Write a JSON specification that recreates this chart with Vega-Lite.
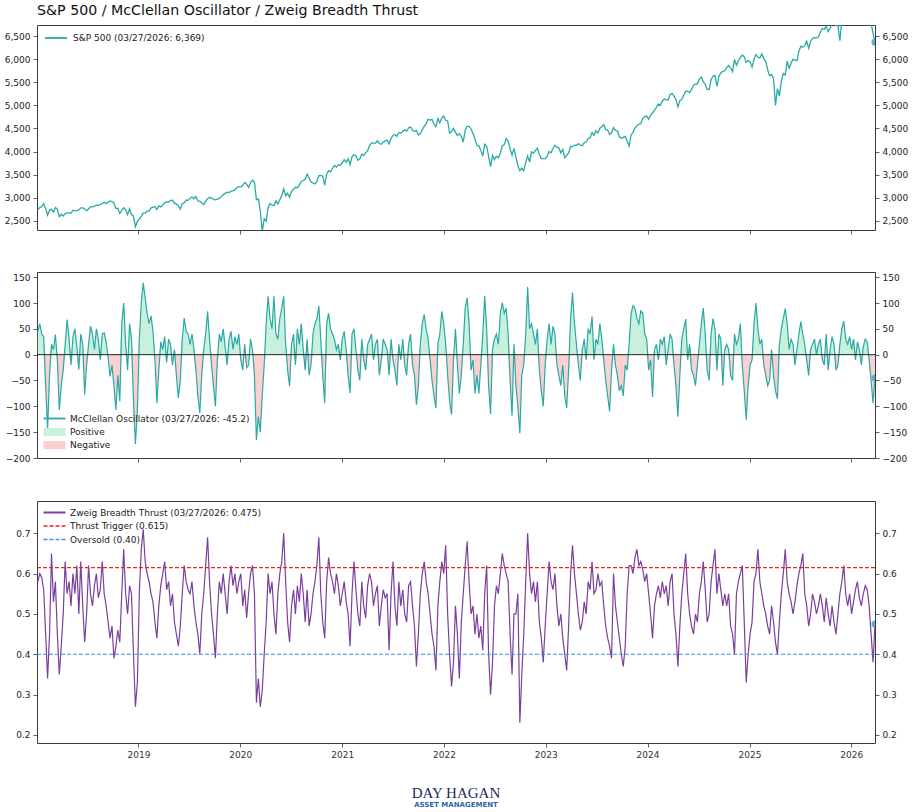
{
"$schema": "https://vega.github.io/schema/vega-lite/v6.json",
"background": "white",
"padding": {"left": 3, "top": 4, "right": 6, "bottom": 4},
"title": {"text": "S&P 500 / McClellan Oscillator / Zweig Breadth Thrust", "anchor": "start", "frame": "group", "font": "DejaVu Sans", "fontSize": 14.2, "fontWeight": "normal", "color": "#111", "offset": 6},
"spacing": 36,
"resolve": {"scale": {"color": "independent"}, "legend": {"color": "independent"}},
"datasets": {"w": [
{"d":"2018-01-05","s":2743,"m":45,"z":0.58},{"d":"2018-01-12","s":2786,"m":60,"z":0.60},{"d":"2018-01-19","s":2810,"m":40,"z":0.59},{"d":"2018-01-26","s":2873,"m":35,"z":0.56},
{"d":"2018-02-02","s":2762,"m":-60,"z":0.45},{"d":"2018-02-09","s":2620,"m":-145,"z":0.34},{"d":"2018-02-16","s":2732,"m":-40,"z":0.45},{"d":"2018-02-23","s":2747,"m":20,"z":0.65},
{"d":"2018-03-02","s":2691,"m":10,"z":0.53},{"d":"2018-03-09","s":2786,"m":39,"z":0.58},{"d":"2018-03-16","s":2752,"m":-10,"z":0.45},{"d":"2018-03-23","s":2588,"m":-107,"z":0.35},{"d":"2018-03-30","s":2641,"m":-60,"z":0.42},
{"d":"2018-04-06","s":2604,"m":-30,"z":0.50},{"d":"2018-04-13","s":2656,"m":20,"z":0.63},{"d":"2018-04-20","s":2670,"m":68,"z":0.55},{"d":"2018-04-27","s":2670,"m":30,"z":0.58},
{"d":"2018-05-04","s":2663,"m":-20,"z":0.52},{"d":"2018-05-11","s":2728,"m":35,"z":0.60},{"d":"2018-05-18","s":2713,"m":50,"z":0.55},{"d":"2018-05-25","s":2721,"m":15,"z":0.62},
{"d":"2018-06-01","s":2735,"m":-29,"z":0.50},{"d":"2018-06-08","s":2779,"m":40,"z":0.63},{"d":"2018-06-15","s":2780,"m":20,"z":0.52},{"d":"2018-06-22","s":2755,"m":-77,"z":0.43},{"d":"2018-06-29","s":2718,"m":-20,"z":0.50},
{"d":"2018-07-06","s":2760,"m":20,"z":0.62},{"d":"2018-07-13","s":2801,"m":55,"z":0.55},{"d":"2018-07-20","s":2802,"m":40,"z":0.52},{"d":"2018-07-27","s":2819,"m":10,"z":0.57},
{"d":"2018-08-03","s":2840,"m":50,"z":0.60},{"d":"2018-08-10","s":2833,"m":30,"z":0.54},{"d":"2018-08-17","s":2850,"m":-10,"z":0.56},{"d":"2018-08-24","s":2875,"m":40,"z":0.63},{"d":"2018-08-31","s":2902,"m":42,"z":0.55},
{"d":"2018-09-07","s":2872,"m":25,"z":0.52},{"d":"2018-09-14","s":2905,"m":-5,"z":0.48},{"d":"2018-09-21","s":2930,"m":-42,"z":0.44},{"d":"2018-09-28","s":2914,"m":-20,"z":0.47},
{"d":"2018-10-05","s":2886,"m":-60,"z":0.39},{"d":"2018-10-12","s":2767,"m":-107,"z":0.42},{"d":"2018-10-19","s":2768,"m":-40,"z":0.46},{"d":"2018-10-26","s":2659,"m":-90,"z":0.43},
{"d":"2018-11-02","s":2723,"m":60,"z":0.55},{"d":"2018-11-09","s":2781,"m":100,"z":0.66},{"d":"2018-11-16","s":2736,"m":20,"z":0.55},{"d":"2018-11-23","s":2633,"m":-30,"z":0.50},{"d":"2018-11-30","s":2760,"m":60,"z":0.57},
{"d":"2018-12-07","s":2633,"m":30,"z":0.55},{"d":"2018-12-14","s":2600,"m":-90,"z":0.40},{"d":"2018-12-21","s":2370,"m":-173,"z":0.27},{"d":"2018-12-28","s":2486,"m":-110,"z":0.33},
{"d":"2019-01-04","s":2532,"m":30,"z":0.55},{"d":"2019-01-11","s":2596,"m":100,"z":0.66},{"d":"2019-01-18","s":2671,"m":139,"z":0.71},{"d":"2019-01-25","s":2665,"m":110,"z":0.63},
{"d":"2019-02-01","s":2707,"m":80,"z":0.60},{"d":"2019-02-08","s":2708,"m":60,"z":0.58},{"d":"2019-02-15","s":2776,"m":75,"z":0.55},{"d":"2019-02-22","s":2793,"m":45,"z":0.53},
{"d":"2019-03-01","s":2804,"m":-10,"z":0.48},{"d":"2019-03-08","s":2743,"m":-94,"z":0.44},{"d":"2019-03-15","s":2822,"m":-30,"z":0.52},{"d":"2019-03-22","s":2800,"m":25,"z":0.57},{"d":"2019-03-29","s":2834,"m":10,"z":0.60},
{"d":"2019-04-05","s":2893,"m":35,"z":0.63},{"d":"2019-04-12","s":2907,"m":-15,"z":0.56},{"d":"2019-04-19","s":2905,"m":30,"z":0.58},{"d":"2019-04-26","s":2940,"m":20,"z":0.52},
{"d":"2019-05-03","s":2946,"m":-20,"z":0.55},{"d":"2019-05-10","s":2881,"m":10,"z":0.48},{"d":"2019-05-17","s":2860,"m":-40,"z":0.45},{"d":"2019-05-24","s":2826,"m":-84,"z":0.42},{"d":"2019-05-31","s":2752,"m":-50,"z":0.47},
{"d":"2019-06-07","s":2873,"m":30,"z":0.55},{"d":"2019-06-14","s":2887,"m":71,"z":0.62},{"d":"2019-06-21","s":2950,"m":45,"z":0.58},{"d":"2019-06-28","s":2942,"m":40,"z":0.56},
{"d":"2019-07-05","s":2990,"m":20,"z":0.55},{"d":"2019-07-12","s":3014,"m":40,"z":0.58},{"d":"2019-07-19","s":2977,"m":10,"z":0.52},{"d":"2019-07-26","s":3026,"m":-30,"z":0.48},
{"d":"2019-08-02","s":2932,"m":-80,"z":0.45},{"d":"2019-08-09","s":2919,"m":-113,"z":0.40},{"d":"2019-08-16","s":2889,"m":-40,"z":0.50},{"d":"2019-08-23","s":2847,"m":10,"z":0.55},{"d":"2019-08-30","s":2926,"m":40,"z":0.62},
{"d":"2019-09-06","s":2979,"m":84,"z":0.69},{"d":"2019-09-13","s":3007,"m":30,"z":0.58},{"d":"2019-09-20","s":2992,"m":-20,"z":0.50},{"d":"2019-09-27","s":2962,"m":-60,"z":0.45},
{"d":"2019-10-04","s":2952,"m":-100,"z":0.39},{"d":"2019-10-11","s":2970,"m":-10,"z":0.50},{"d":"2019-10-18","s":2986,"m":40,"z":0.58},{"d":"2019-10-25","s":3023,"m":25,"z":0.55},
{"d":"2019-11-01","s":3067,"m":50,"z":0.60},{"d":"2019-11-08","s":3093,"m":15,"z":0.55},{"d":"2019-11-15","s":3120,"m":-20,"z":0.50},{"d":"2019-11-22","s":3110,"m":30,"z":0.58},{"d":"2019-11-29","s":3141,"m":45,"z":0.62},
{"d":"2019-12-06","s":3146,"m":10,"z":0.57},{"d":"2019-12-13","s":3169,"m":35,"z":0.60},{"d":"2019-12-20","s":3221,"m":20,"z":0.55},{"d":"2019-12-27","s":3240,"m":40,"z":0.58},
{"d":"2020-01-03","s":3235,"m":-10,"z":0.60},{"d":"2020-01-10","s":3265,"m":-30,"z":0.52},{"d":"2020-01-17","s":3330,"m":20,"z":0.56},{"d":"2020-01-24","s":3295,"m":-25,"z":0.49},{"d":"2020-01-31","s":3226,"m":-20,"z":0.55},
{"d":"2020-02-07","s":3328,"m":30,"z":0.60},{"d":"2020-02-14","s":3380,"m":10,"z":0.62},{"d":"2020-02-21","s":3338,"m":-40,"z":0.55},{"d":"2020-02-28","s":2954,"m":-165,"z":0.28},
{"d":"2020-03-06","s":2972,"m":-120,"z":0.34},{"d":"2020-03-13","s":2711,"m":-150,"z":0.27},{"d":"2020-03-20","s":2270,"m":-80,"z":0.31},{"d":"2020-03-27","s":2541,"m":-20,"z":0.40},
{"d":"2020-04-03","s":2489,"m":60,"z":0.48},{"d":"2020-04-10","s":2790,"m":113,"z":0.60},{"d":"2020-04-17","s":2875,"m":70,"z":0.55},{"d":"2020-04-24","s":2837,"m":50,"z":0.58},
{"d":"2020-05-01","s":2831,"m":113,"z":0.50},{"d":"2020-05-08","s":2930,"m":40,"z":0.45},{"d":"2020-05-15","s":2864,"m":30,"z":0.55},{"d":"2020-05-22","s":2955,"m":70,"z":0.60},{"d":"2020-05-29","s":3044,"m":90,"z":0.63},
{"d":"2020-06-05","s":3194,"m":113,"z":0.70},{"d":"2020-06-12","s":3041,"m":20,"z":0.58},{"d":"2020-06-19","s":3098,"m":-30,"z":0.48},{"d":"2020-06-26","s":3009,"m":-61,"z":0.43},
{"d":"2020-07-03","s":3130,"m":20,"z":0.52},{"d":"2020-07-10","s":3185,"m":40,"z":0.56},{"d":"2020-07-17","s":3225,"m":-20,"z":0.50},{"d":"2020-07-24","s":3216,"m":50,"z":0.57},{"d":"2020-07-31","s":3271,"m":20,"z":0.53},
{"d":"2020-08-07","s":3351,"m":60,"z":0.60},{"d":"2020-08-14","s":3373,"m":10,"z":0.55},{"d":"2020-08-21","s":3397,"m":-30,"z":0.48},{"d":"2020-08-28","s":3508,"m":30,"z":0.56},
{"d":"2020-09-04","s":3427,"m":-40,"z":0.47},{"d":"2020-09-11","s":3341,"m":-20,"z":0.50},{"d":"2020-09-18","s":3319,"m":40,"z":0.55},{"d":"2020-09-25","s":3298,"m":60,"z":0.58},
{"d":"2020-10-02","s":3348,"m":70,"z":0.62},{"d":"2020-10-09","s":3477,"m":94,"z":0.69},{"d":"2020-10-16","s":3484,"m":30,"z":0.55},{"d":"2020-10-23","s":3465,"m":-40,"z":0.48},{"d":"2020-10-30","s":3270,"m":-94,"z":0.44},
{"d":"2020-11-06","s":3510,"m":60,"z":0.58},{"d":"2020-11-13","s":3585,"m":80,"z":0.64},{"d":"2020-11-20","s":3558,"m":50,"z":0.60},{"d":"2020-11-27","s":3638,"m":40,"z":0.58},
{"d":"2020-12-04","s":3699,"m":30,"z":0.55},{"d":"2020-12-11","s":3663,"m":10,"z":0.60},{"d":"2020-12-18","s":3709,"m":20,"z":0.57},{"d":"2020-12-25","s":3703,"m":-10,"z":0.52},
{"d":"2021-01-01","s":3756,"m":30,"z":0.55},{"d":"2021-01-08","s":3825,"m":45,"z":0.58},{"d":"2021-01-15","s":3768,"m":10,"z":0.53},{"d":"2021-01-22","s":3841,"m":-40,"z":0.50},{"d":"2021-01-29","s":3714,"m":-74,"z":0.42},
{"d":"2021-02-05","s":3887,"m":40,"z":0.55},{"d":"2021-02-12","s":3934,"m":50,"z":0.63},{"d":"2021-02-19","s":3907,"m":10,"z":0.56},{"d":"2021-02-26","s":3811,"m":-30,"z":0.50},
{"d":"2021-03-05","s":3842,"m":-50,"z":0.47},{"d":"2021-03-12","s":3943,"m":30,"z":0.58},{"d":"2021-03-19","s":3913,"m":-10,"z":0.52},{"d":"2021-03-26","s":3975,"m":-30,"z":0.49},
{"d":"2021-04-02","s":4020,"m":20,"z":0.57},{"d":"2021-04-09","s":4129,"m":30,"z":0.60},{"d":"2021-04-16","s":4185,"m":40,"z":0.58},{"d":"2021-04-23","s":4180,"m":-10,"z":0.52},{"d":"2021-04-30","s":4181,"m":20,"z":0.55},
{"d":"2021-05-07","s":4233,"m":30,"z":0.57},{"d":"2021-05-14","s":4174,"m":-40,"z":0.47},{"d":"2021-05-21","s":4156,"m":-10,"z":0.52},{"d":"2021-05-28","s":4204,"m":30,"z":0.56},
{"d":"2021-06-04","s":4230,"m":20,"z":0.54},{"d":"2021-06-11","s":4247,"m":10,"z":0.55},{"d":"2021-06-18","s":4166,"m":-40,"z":0.41},{"d":"2021-06-25","s":4281,"m":30,"z":0.55},
{"d":"2021-07-02","s":4352,"m":-10,"z":0.63},{"d":"2021-07-09","s":4370,"m":-30,"z":0.52},{"d":"2021-07-16","s":4327,"m":-60,"z":0.47},{"d":"2021-07-23","s":4412,"m":20,"z":0.58},{"d":"2021-07-30","s":4395,"m":-10,"z":0.52},
{"d":"2021-08-06","s":4437,"m":30,"z":0.56},{"d":"2021-08-13","s":4468,"m":-20,"z":0.50},{"d":"2021-08-20","s":4442,"m":-40,"z":0.48},{"d":"2021-08-27","s":4509,"m":20,"z":0.57},
{"d":"2021-09-03","s":4535,"m":40,"z":0.58},{"d":"2021-09-10","s":4459,"m":-20,"z":0.52},{"d":"2021-09-17","s":4433,"m":-40,"z":0.47},{"d":"2021-09-24","s":4455,"m":-97,"z":0.37},
{"d":"2021-10-01","s":4357,"m":-60,"z":0.45},{"d":"2021-10-08","s":4391,"m":20,"z":0.55},{"d":"2021-10-15","s":4471,"m":60,"z":0.60},{"d":"2021-10-22","s":4545,"m":78,"z":0.63},{"d":"2021-10-29","s":4605,"m":50,"z":0.58},
{"d":"2021-11-05","s":4697,"m":30,"z":0.55},{"d":"2021-11-12","s":4682,"m":-10,"z":0.50},{"d":"2021-11-19","s":4698,"m":-50,"z":0.45},{"d":"2021-11-26","s":4595,"m":-80,"z":0.42},
{"d":"2021-12-03","s":4538,"m":-103,"z":0.36},{"d":"2021-12-10","s":4712,"m":20,"z":0.52},{"d":"2021-12-17","s":4620,"m":40,"z":0.58},{"d":"2021-12-24","s":4726,"m":84,"z":0.63},{"d":"2021-12-31","s":4766,"m":60,"z":0.60},
{"d":"2022-01-07","s":4677,"m":20,"z":0.67},{"d":"2022-01-14","s":4662,"m":-40,"z":0.50},{"d":"2022-01-21","s":4398,"m":-90,"z":0.40},{"d":"2022-01-28","s":4432,"m":-116,"z":0.32},
{"d":"2022-02-04","s":4500,"m":-10,"z":0.38},{"d":"2022-02-11","s":4419,"m":50,"z":0.52},{"d":"2022-02-18","s":4349,"m":-20,"z":0.45},{"d":"2022-02-25","s":4385,"m":-75,"z":0.34},
{"d":"2022-03-04","s":4329,"m":-40,"z":0.48},{"d":"2022-03-11","s":4204,"m":20,"z":0.55},{"d":"2022-03-18","s":4463,"m":90,"z":0.62},{"d":"2022-03-25","s":4543,"m":110,"z":0.68},
{"d":"2022-04-01","s":4546,"m":60,"z":0.58},{"d":"2022-04-08","s":4488,"m":-30,"z":0.50},{"d":"2022-04-15","s":4392,"m":-10,"z":0.52},{"d":"2022-04-22","s":4272,"m":-75,"z":0.45},{"d":"2022-04-29","s":4132,"m":-40,"z":0.50},
{"d":"2022-05-06","s":4123,"m":-75,"z":0.44},{"d":"2022-05-13","s":4024,"m":-20,"z":0.47},{"d":"2022-05-20","s":3901,"m":40,"z":0.41},{"d":"2022-05-27","s":4158,"m":114,"z":0.55},
{"d":"2022-06-03","s":4109,"m":50,"z":0.62},{"d":"2022-06-10","s":3901,"m":-60,"z":0.40},{"d":"2022-06-17","s":3675,"m":-115,"z":0.30},{"d":"2022-06-24","s":3912,"m":10,"z":0.38},
{"d":"2022-07-01","s":3825,"m":30,"z":0.52},{"d":"2022-07-08","s":3899,"m":40,"z":0.57},{"d":"2022-07-15","s":3863,"m":20,"z":0.55},{"d":"2022-07-22","s":3962,"m":80,"z":0.60},{"d":"2022-07-29","s":4130,"m":101,"z":0.65},
{"d":"2022-08-05","s":4145,"m":80,"z":0.62},{"d":"2022-08-12","s":4280,"m":90,"z":0.60},{"d":"2022-08-19","s":4228,"m":40,"z":0.58},{"d":"2022-08-26","s":4058,"m":-50,"z":0.45},
{"d":"2022-09-02","s":3924,"m":-118,"z":0.35},{"d":"2022-09-09","s":4067,"m":20,"z":0.50},{"d":"2022-09-16","s":3873,"m":-60,"z":0.50},{"d":"2022-09-23","s":3693,"m":-100,"z":0.55},{"d":"2022-09-30","s":3586,"m":-152,"z":0.23},
{"d":"2022-10-07","s":3640,"m":-40,"z":0.35},{"d":"2022-10-14","s":3583,"m":-20,"z":0.45},{"d":"2022-10-21","s":3753,"m":40,"z":0.58},{"d":"2022-10-28","s":3901,"m":131,"z":0.70},
{"d":"2022-11-04","s":3771,"m":50,"z":0.60},{"d":"2022-11-11","s":3993,"m":60,"z":0.55},{"d":"2022-11-18","s":3965,"m":40,"z":0.58},{"d":"2022-11-25","s":4026,"m":20,"z":0.53},
{"d":"2022-12-02","s":4072,"m":50,"z":0.58},{"d":"2022-12-09","s":3934,"m":-30,"z":0.48},{"d":"2022-12-16","s":3852,"m":-70,"z":0.44},{"d":"2022-12-23","s":3845,"m":-100,"z":0.38},{"d":"2022-12-30","s":3840,"m":-20,"z":0.47},
{"d":"2023-01-06","s":3895,"m":30,"z":0.55},{"d":"2023-01-13","s":3999,"m":60,"z":0.63},{"d":"2023-01-20","s":3973,"m":20,"z":0.58},{"d":"2023-01-27","s":4071,"m":55,"z":0.56},
{"d":"2023-02-03","s":4136,"m":40,"z":0.60},{"d":"2023-02-10","s":4090,"m":-20,"z":0.52},{"d":"2023-02-17","s":4079,"m":-40,"z":0.47},{"d":"2023-02-24","s":3970,"m":-60,"z":0.50},
{"d":"2023-03-03","s":4046,"m":-20,"z":0.44},{"d":"2023-03-10","s":3862,"m":-80,"z":0.40},{"d":"2023-03-17","s":3917,"m":-103,"z":0.36},{"d":"2023-03-24","s":3971,"m":-30,"z":0.47},{"d":"2023-03-31","s":4109,"m":70,"z":0.60},
{"d":"2023-04-07","s":4105,"m":120,"z":0.67},{"d":"2023-04-14","s":4138,"m":60,"z":0.60},{"d":"2023-04-21","s":4133,"m":20,"z":0.55},{"d":"2023-04-28","s":4169,"m":-20,"z":0.50},
{"d":"2023-05-05","s":4136,"m":-50,"z":0.46},{"d":"2023-05-12","s":4124,"m":10,"z":0.48},{"d":"2023-05-19","s":4192,"m":30,"z":0.53},{"d":"2023-05-26","s":4205,"m":-10,"z":0.50},
{"d":"2023-06-02","s":4282,"m":50,"z":0.58},{"d":"2023-06-09","s":4299,"m":40,"z":0.56},{"d":"2023-06-16","s":4410,"m":74,"z":0.63},{"d":"2023-06-23","s":4348,"m":-10,"z":0.55},{"d":"2023-06-30","s":4450,"m":30,"z":0.56},
{"d":"2023-07-07","s":4399,"m":20,"z":0.60},{"d":"2023-07-14","s":4505,"m":60,"z":0.57},{"d":"2023-07-21","s":4536,"m":30,"z":0.58},{"d":"2023-07-28","s":4582,"m":-10,"z":0.52},
{"d":"2023-08-04","s":4478,"m":-50,"z":0.47},{"d":"2023-08-11","s":4464,"m":-80,"z":0.44},{"d":"2023-08-18","s":4370,"m":-110,"z":0.42},{"d":"2023-08-25","s":4406,"m":-30,"z":0.39},
{"d":"2023-09-01","s":4516,"m":20,"z":0.60},{"d":"2023-09-08","s":4457,"m":-20,"z":0.52},{"d":"2023-09-15","s":4450,"m":-40,"z":0.48},{"d":"2023-09-22","s":4320,"m":-70,"z":0.44},{"d":"2023-09-29","s":4288,"m":-60,"z":0.40},
{"d":"2023-10-06","s":4308,"m":-80,"z":0.37},{"d":"2023-10-13","s":4327,"m":-20,"z":0.42},{"d":"2023-10-20","s":4224,"m":-30,"z":0.55},{"d":"2023-10-27","s":4117,"m":20,"z":0.62},
{"d":"2023-11-03","s":4358,"m":80,"z":0.62},{"d":"2023-11-10","s":4415,"m":95,"z":0.60},{"d":"2023-11-17","s":4514,"m":90,"z":0.64},{"d":"2023-11-24","s":4559,"m":70,"z":0.66},
{"d":"2023-12-01","s":4595,"m":60,"z":0.62},{"d":"2023-12-08","s":4604,"m":85,"z":0.63},{"d":"2023-12-15","s":4719,"m":80,"z":0.61},{"d":"2023-12-22","s":4755,"m":40,"z":0.58},{"d":"2023-12-29","s":4770,"m":30,"z":0.60},
{"d":"2024-01-05","s":4697,"m":-30,"z":0.55},{"d":"2024-01-12","s":4784,"m":-10,"z":0.50},{"d":"2024-01-19","s":4840,"m":-82,"z":0.44},{"d":"2024-01-26","s":4891,"m":10,"z":0.52},
{"d":"2024-02-02","s":4959,"m":20,"z":0.55},{"d":"2024-02-09","s":5027,"m":-10,"z":0.57},{"d":"2024-02-16","s":5006,"m":30,"z":0.54},{"d":"2024-02-23","s":5089,"m":20,"z":0.58},
{"d":"2024-03-01","s":5137,"m":35,"z":0.55},{"d":"2024-03-08","s":5124,"m":-20,"z":0.57},{"d":"2024-03-15","s":5117,"m":10,"z":0.52},{"d":"2024-03-22","s":5234,"m":40,"z":0.58},{"d":"2024-03-29","s":5254,"m":30,"z":0.60},
{"d":"2024-04-05","s":5204,"m":-20,"z":0.50},{"d":"2024-04-12","s":5123,"m":-60,"z":0.45},{"d":"2024-04-19","s":4967,"m":-120,"z":0.37},{"d":"2024-04-26","s":5100,"m":-40,"z":0.47},
{"d":"2024-05-03","s":5128,"m":30,"z":0.55},{"d":"2024-05-10","s":5223,"m":50,"z":0.60},{"d":"2024-05-17","s":5303,"m":69,"z":0.65},{"d":"2024-05-24","s":5305,"m":-10,"z":0.55},{"d":"2024-05-31","s":5278,"m":20,"z":0.50},
{"d":"2024-06-07","s":5347,"m":-30,"z":0.47},{"d":"2024-06-14","s":5432,"m":-40,"z":0.45},{"d":"2024-06-21","s":5465,"m":-60,"z":0.50},{"d":"2024-06-28","s":5460,"m":-20,"z":0.48},
{"d":"2024-07-05","s":5567,"m":20,"z":0.55},{"d":"2024-07-12","s":5615,"m":60,"z":0.58},{"d":"2024-07-19","s":5505,"m":90,"z":0.63},{"d":"2024-07-26","s":5459,"m":40,"z":0.56},
{"d":"2024-08-02","s":5346,"m":-30,"z":0.48},{"d":"2024-08-09","s":5344,"m":-50,"z":0.50},{"d":"2024-08-16","s":5554,"m":40,"z":0.58},{"d":"2024-08-23","s":5634,"m":70,"z":0.62},{"d":"2024-08-30","s":5648,"m":50,"z":0.66},
{"d":"2024-09-06","s":5408,"m":-30,"z":0.55},{"d":"2024-09-13","s":5626,"m":40,"z":0.60},{"d":"2024-09-20","s":5703,"m":30,"z":0.56},{"d":"2024-09-27","s":5738,"m":-60,"z":0.52},
{"d":"2024-10-04","s":5751,"m":10,"z":0.55},{"d":"2024-10-11","s":5815,"m":20,"z":0.52},{"d":"2024-10-18","s":5864,"m":10,"z":0.55},{"d":"2024-10-25","s":5808,"m":-40,"z":0.47},
{"d":"2024-11-01","s":5729,"m":-50,"z":0.45},{"d":"2024-11-08","s":5995,"m":40,"z":0.40},{"d":"2024-11-15","s":5870,"m":20,"z":0.55},{"d":"2024-11-22","s":5969,"m":30,"z":0.58},{"d":"2024-11-29","s":6032,"m":60,"z":0.60},
{"d":"2024-12-06","s":6090,"m":-20,"z":0.62},{"d":"2024-12-13","s":6051,"m":-70,"z":0.48},{"d":"2024-12-20","s":5931,"m":-126,"z":0.33},{"d":"2024-12-27","s":5971,"m":-60,"z":0.40},
{"d":"2025-01-03","s":5942,"m":-20,"z":0.45},{"d":"2025-01-10","s":5827,"m":-10,"z":0.48},{"d":"2025-01-17","s":5997,"m":60,"z":0.58},{"d":"2025-01-24","s":6101,"m":100,"z":0.60},{"d":"2025-01-31","s":6041,"m":50,"z":0.66},
{"d":"2025-02-07","s":6026,"m":20,"z":0.58},{"d":"2025-02-14","s":6115,"m":30,"z":0.55},{"d":"2025-02-21","s":6013,"m":-20,"z":0.52},{"d":"2025-02-28","s":5955,"m":-40,"z":0.50},
{"d":"2025-03-07","s":5770,"m":-60,"z":0.47},{"d":"2025-03-14","s":5639,"m":-50,"z":0.45},{"d":"2025-03-21","s":5667,"m":10,"z":0.52},{"d":"2025-03-28","s":5581,"m":-40,"z":0.48},
{"d":"2025-04-04","s":5000,"m":-70,"z":0.43},{"d":"2025-04-11","s":5363,"m":-85,"z":0.40},{"d":"2025-04-18","s":5200,"m":20,"z":0.48},{"d":"2025-04-25","s":5525,"m":50,"z":0.55},
{"d":"2025-05-02","s":5687,"m":70,"z":0.60},{"d":"2025-05-09","s":5660,"m":89,"z":0.66},{"d":"2025-05-16","s":5958,"m":60,"z":0.58},{"d":"2025-05-23","s":5803,"m":10,"z":0.55},{"d":"2025-05-30","s":5912,"m":30,"z":0.53},
{"d":"2025-06-06","s":6000,"m":20,"z":0.50},{"d":"2025-06-13","s":5977,"m":-20,"z":0.53},{"d":"2025-06-20","s":5967,"m":10,"z":0.57},{"d":"2025-06-27","s":6173,"m":40,"z":0.60},
{"d":"2025-07-04","s":6279,"m":64,"z":0.62},{"d":"2025-07-11","s":6260,"m":40,"z":0.65},{"d":"2025-07-18","s":6297,"m":20,"z":0.55},{"d":"2025-07-25","s":6389,"m":-10,"z":0.52},
{"d":"2025-08-01","s":6238,"m":-40,"z":0.47},{"d":"2025-08-08","s":6389,"m":10,"z":0.50},{"d":"2025-08-15","s":6450,"m":20,"z":0.55},{"d":"2025-08-22","s":6467,"m":30,"z":0.53},{"d":"2025-08-29","s":6460,"m":0,"z":0.50},
{"d":"2025-09-05","s":6482,"m":20,"z":0.52},{"d":"2025-09-12","s":6584,"m":30,"z":0.55},{"d":"2025-09-19","s":6664,"m":-10,"z":0.52},{"d":"2025-09-26","s":6644,"m":-20,"z":0.48},
{"d":"2025-10-03","s":6716,"m":40,"z":0.54},{"d":"2025-10-10","s":6600,"m":-30,"z":0.50},{"d":"2025-10-17","s":6664,"m":10,"z":0.47},{"d":"2025-10-24","s":6792,"m":35,"z":0.52},{"d":"2025-10-31","s":6840,"m":20,"z":0.48},
{"d":"2025-11-07","s":6728,"m":-30,"z":0.45},{"d":"2025-11-14","s":6734,"m":-20,"z":0.50},{"d":"2025-11-21","s":6400,"m":20,"z":0.55},{"d":"2025-11-28","s":6849,"m":50,"z":0.58},
{"d":"2025-12-05","s":6870,"m":65,"z":0.62},{"d":"2025-12-12","s":6827,"m":30,"z":0.55},{"d":"2025-12-19","s":6834,"m":20,"z":0.52},{"d":"2025-12-26","s":6930,"m":35,"z":0.55},
{"d":"2026-01-02","s":6860,"m":10,"z":0.50},{"d":"2026-01-09","s":6940,"m":30,"z":0.53},{"d":"2026-01-16","s":6900,"m":-10,"z":0.56},{"d":"2026-01-23","s":6915,"m":25,"z":0.58},{"d":"2026-01-30","s":6939,"m":10,"z":0.54},
{"d":"2026-02-06","s":6930,"m":-20,"z":0.52},{"d":"2026-02-13","s":6840,"m":15,"z":0.55},{"d":"2026-02-20","s":6860,"m":30,"z":0.57},{"d":"2026-02-27","s":6870,"m":25,"z":0.56},
{"d":"2026-03-06","s":6800,"m":-10,"z":0.52},{"d":"2026-03-13","s":6780,"m":-50,"z":0.45},{"d":"2026-03-20","s":6560,"m":-94,"z":0.38},{"d":"2026-03-27","s":6369,"m":-45.2,"z":0.475}
]},
"vconcat": [
{
 "width": 838, "height": 205,
 "data": {"name": "w"},
 "layer": [
  {"mark": {"type": "line", "clip": true, "strokeWidth": 1.3},
   "encoding": {
    "x": {"field": "d", "type": "temporal", "scale": {"domain": [{"year": 2018, "month": 1, "date": 2}, {"year": 2026, "month": 3, "date": 27}]},
          "axis": {"title": null, "labels": false, "values": [{"year":2019,"month":1,"date":1},{"year":2020,"month":1,"date":1},{"year":2021,"month":1,"date":1},{"year":2022,"month":1,"date":1},{"year":2023,"month":1,"date":1},{"year":2024,"month":1,"date":1},{"year":2025,"month":1,"date":1},{"year":2026,"month":1,"date":1}]}},
    "y": {"field": "s", "type": "quantitative", "scale": {"domain": [2300, 6740], "nice": false, "zero": false},
          "axis": {"orient": "left", "title": null, "format": ",d", "values": [2500,3000,3500,4000,4500,5000,5500,6000,6500]}},
    "color": {"datum": "S&P 500 (03/27/2026: 6,369)", "type": "nominal", "scale": {"domain": ["S&P 500 (03/27/2026: 6,369)"], "range": ["#2aaaa6"]},
              "legend": {"title": null, "orient": "top-left", "labelLimit": 400,
                         "encode": {"symbols": {"update": {"shape": {"value": "M-2.2,0H2.2"}, "size": {"value": 100}, "stroke": {"value": "#2aaaa6"}, "strokeWidth": {"value": 1.8}, "fill": {"value": "transparent"}, "opacity": {"value": 1}}}}}}
   }},
  {"transform": [{"filter": {"field": "s", "equal": 6369}}],
   "mark": {"type": "circle", "clip": true, "size": 50, "color": "#5aaed8", "opacity": 1},
   "encoding": {
    "x": {"field": "d", "type": "temporal"},
    "y": {"field": "s", "type": "quantitative", "axis": {"orient": "right", "title": null, "format": ",d", "values": [2500,3000,3500,4000,4500,5000,5500,6000,6500]}}
   }}
 ],
 "resolve": {"axis": {"y": "independent"}}
},
{
 "width": 838, "height": 186,
 "data": {"name": "w"},
 "layer": [
  {"mark": {"type": "area", "clip": true, "opacity": 1},
   "encoding": {
    "x": {"field": "d", "type": "temporal", "scale": {"domain": [{"year": 2018, "month": 1, "date": 2}, {"year": 2026, "month": 3, "date": 27}]},
          "axis": {"title": null, "labels": false, "values": [{"year":2019,"month":1,"date":1},{"year":2020,"month":1,"date":1},{"year":2021,"month":1,"date":1},{"year":2022,"month":1,"date":1},{"year":2023,"month":1,"date":1},{"year":2024,"month":1,"date":1},{"year":2025,"month":1,"date":1},{"year":2026,"month":1,"date":1}]}},
    "y": {"field": "m", "type": "quantitative", "scale": {"domain": [0, 160], "range": [82.667, 0], "clamp": true, "nice": false, "zero": false}, "axis": null},
    "y2": {"datum": 0},
    "color": {"datum": "Positive", "type": "nominal"}
   }},
  {"mark": {"type": "area", "clip": true, "opacity": 1},
   "encoding": {
    "x": {"field": "d", "type": "temporal"},
    "y": {"field": "m", "type": "quantitative", "scale": {"domain": [-200, 0], "range": [186, 82.667], "clamp": true, "nice": false, "zero": false}, "axis": null},
    "y2": {"datum": 0},
    "color": {"datum": "Negative", "type": "nominal"}
   }},
  {"mark": {"type": "line", "clip": true, "strokeWidth": 1.2},
   "encoding": {
    "x": {"field": "d", "type": "temporal"},
    "y": {"field": "m", "type": "quantitative", "scale": {"domain": [-200, 160], "nice": false, "zero": false},
          "axis": {"orient": "left", "title": null, "format": "d", "values": [-200,-150,-100,-50,0,50,100,150]}},
    "color": {"datum": "McClellan Oscillator (03/27/2026: -45.2)", "type": "nominal",
              "scale": {"domain": ["McClellan Oscillator (03/27/2026: -45.2)", "Positive", "Negative"], "range": ["#2aaaa6", "#c8f0dc", "#fbd0d0"]},
              "legend": {"title": null, "orient": "bottom-left", "labelLimit": 400, "rowPadding": 3.3,
                         "encode": {"symbols": {"update": {
                           "shape": {"signal": "datum.index === 0 ? 'M-2.2,0H2.2' : 'M-2.2,-0.8H2.2V0.8H-2.2Z'"},
                           "size": {"value": 100},
                           "stroke": {"signal": "datum.index === 0 ? '#2aaaa6' : 'transparent'"},
                           "strokeWidth": {"signal": "datum.index === 0 ? 1.8 : 0"},
                           "fill": {"signal": "datum.index === 1 ? '#c8f0dc' : datum.index === 2 ? '#fbd0d0' : 'transparent'"},
                           "opacity": {"value": 1}, "fillOpacity": {"value": 1}}}}}}
   }},
  {"data": {"values": [{}]},
   "mark": {"type": "rule", "color": "#222", "strokeWidth": 1},
   "encoding": {"y": {"datum": 0, "type": "quantitative", "scale": {"domain": [-200, 160], "nice": false, "zero": false}, "axis": null}}},
  {"transform": [{"filter": {"field": "m", "equal": -45.2}}],
   "mark": {"type": "circle", "clip": true, "size": 50, "color": "#5aaed8", "opacity": 1},
   "encoding": {
    "x": {"field": "d", "type": "temporal"},
    "y": {"field": "m", "type": "quantitative", "scale": {"domain": [-200, 160], "nice": false, "zero": false},
          "axis": {"orient": "right", "title": null, "format": "d", "values": [-200,-150,-100,-50,0,50,100,150]}}
   }}
 ],
 "resolve": {"scale": {"y": "independent"}}
},
{
 "width": 838, "height": 242,
 "data": {"name": "w"},
 "title": {"text": "DAY HAGAN", "subtitle": "ASSET MANAGEMENT", "orient": "bottom", "anchor": "middle", "font": "Liberation Serif", "fontSize": 15, "fontWeight": "normal", "color": "#1d2b5e", "subtitleFont": "DejaVu Sans", "subtitleFontSize": 7, "subtitleFontWeight": "bold", "subtitleColor": "#2f63a8", "subtitlePadding": 0, "offset": 27},
 "layer": [
  {"mark": {"type": "line", "clip": true, "strokeWidth": 1.2},
   "encoding": {
    "x": {"field": "d", "type": "temporal", "scale": {"domain": [{"year": 2018, "month": 1, "date": 2}, {"year": 2026, "month": 3, "date": 27}]},
          "axis": {"title": null, "format": "%Y", "labelColor": "#333", "values": [{"year":2019,"month":1,"date":1},{"year":2020,"month":1,"date":1},{"year":2021,"month":1,"date":1},{"year":2022,"month":1,"date":1},{"year":2023,"month":1,"date":1},{"year":2024,"month":1,"date":1},{"year":2025,"month":1,"date":1},{"year":2026,"month":1,"date":1}]}},
    "y": {"field": "z", "type": "quantitative", "scale": {"domain": [0.18, 0.78], "nice": false, "zero": false},
          "axis": {"orient": "left", "title": null, "format": ".1f", "values": [0.2,0.3,0.4,0.5,0.6,0.7]}},
    "color": {"datum": "Zweig Breadth Thrust (03/27/2026: 0.475)", "type": "nominal",
              "scale": {"domain": ["Zweig Breadth Thrust (03/27/2026: 0.475)", "Thrust Trigger (0.615)", "Oversold (0.40)"], "range": ["#7b3f9e", "#f02020", "#3f8fe8"]},
              "legend": {"title": null, "orient": "top-left", "labelLimit": 400,
                         "encode": {"symbols": {"update": {
                           "shape": {"value": "M-2.2,0H2.2"},
                           "size": {"value": 100},
                           "strokeWidth": {"signal": "datum.index === 0 ? 1.8 : 1.3"},
                           "strokeDash": {"signal": "datum.index === 0 ? [1, 0] : [4, 2]"},
                           "fill": {"value": "transparent"}, "opacity": {"value": 1}}}}}}
   }},
  {"data": {"values": [{"k": "Thrust Trigger (0.615)", "v": 0.615}, {"k": "Oversold (0.40)", "v": 0.4}]},
   "mark": {"type": "rule", "strokeWidth": 1.2, "strokeDash": [4, 2], "opacity": 1},
   "encoding": {
    "y": {"field": "v", "type": "quantitative", "axis": null},
    "color": {"field": "k", "type": "nominal", "title": null}
   }},
  {"transform": [{"filter": {"field": "z", "equal": 0.475}}],
   "mark": {"type": "circle", "clip": true, "size": 50, "color": "#5aaed8", "opacity": 1},
   "encoding": {
    "x": {"field": "d", "type": "temporal"},
    "y": {"field": "z", "type": "quantitative", "axis": {"orient": "right", "title": null, "format": ".1f", "values": [0.2,0.3,0.4,0.5,0.6,0.7]}}
   }}
 ],
 "resolve": {"axis": {"y": "independent"}}
}
],
"config": {
 "font": "DejaVu Sans",
 "view": {"stroke": "#3a3a3a", "strokeWidth": 1},
 "axis": {"grid": false, "domain": false, "tickColor": "#3a3a3a", "tickSize": 4, "tickWidth": 0.8, "labelFont": "DejaVu Sans", "labelFontSize": 9, "labelColor": "#222", "labelPadding": 3},
 "legend": {"labelFont": "DejaVu Sans", "labelFontSize": 9, "labelColor": "#222", "symbolSize": 100, "padding": 0, "rowPadding": 3.5, "offset": 7, "labelOffset": 11, "symbolOffset": 6}
}
}
